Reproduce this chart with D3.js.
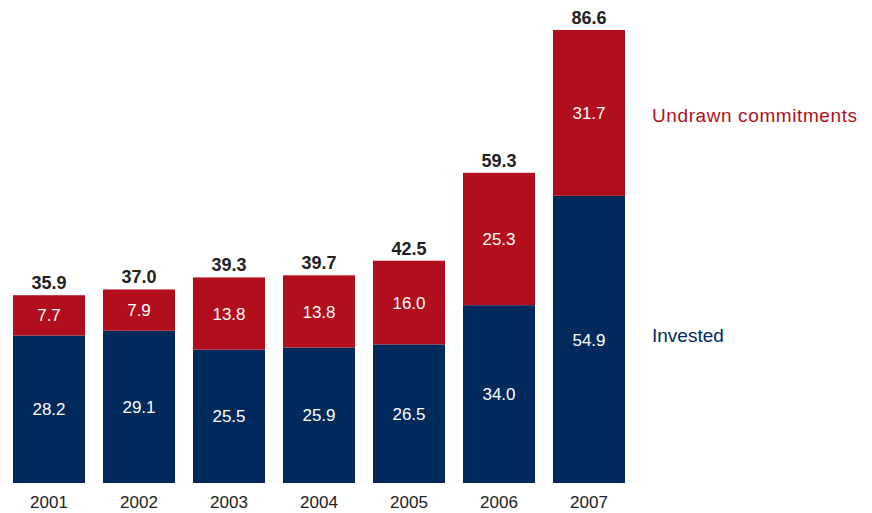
<!DOCTYPE html>
<html>
<head>
<meta charset="utf-8">
<script src="https://cdn.jsdelivr.net/npm/d3@7"></script>
<style>
  html, body { margin: 0; padding: 0; background: #fff; }
  svg { display: block; font-family: "Liberation Sans", Arial, sans-serif; }
</style>
</head>
<body>
<svg id="chart" width="872" height="513"></svg>
<script>
// Private equity funds, by year (billions)
const years = ["2001", "2002", "2003", "2004", "2005", "2006", "2007"];
const invested = [28.2, 29.1, 25.5, 25.9, 26.5, 34.0, 54.9];
const undrawn = [7.7, 7.9, 13.8, 13.8, 16.0, 25.3, 31.7];
const totals = [35.9, 37.0, 39.3, 39.7, 42.5, 59.3, 86.6];
const seriesNames = ["Invested", "Undrawn commitments"];

const colors = { invested: "#002a5c", undrawn: "#b20e1c", text: "#222222" };

const svg = d3.select("#chart");

const x = d3.scaleBand().domain(years).range([13, 625]).paddingInner(0.2).paddingOuter(0);
const y = d3.scaleLinear().domain([0, 86.6]).range([483, 30]);

const rows = years.map((yr, i) => ({ year: yr, invested: invested[i], undrawn: undrawn[i], total: totals[i] }));

const g = svg.append("g");

// Invested segment (bottom)
g.selectAll("rect.inv").data(rows).join("rect")
  .attr("class", "inv")
  .attr("x", d => x(d.year))
  .attr("width", x.bandwidth())
  .attr("y", d => y(d.invested))
  .attr("height", d => y(0) - y(d.invested))
  .attr("fill", colors.invested);

// Undrawn commitments segment (stacked on top)
g.selectAll("rect.und").data(rows).join("rect")
  .attr("class", "und")
  .attr("x", d => x(d.year))
  .attr("width", x.bandwidth())
  .attr("y", d => y(d.invested + d.undrawn))
  .attr("height", d => y(d.invested) - y(d.invested + d.undrawn))
  .attr("fill", colors.undrawn);

// Segment value labels
g.selectAll("text.inv").data(rows).join("text")
  .attr("x", d => x(d.year) + x.bandwidth() / 2)
  .attr("y", d => (y(0) + y(d.invested)) / 2)
  .attr("dy", "0.36em")
  .attr("text-anchor", "middle")
  .attr("fill", "#ffffff")
  .attr("font-size", 17)
  .text(d => d.invested.toFixed(1));

g.selectAll("text.und").data(rows).join("text")
  .attr("x", d => x(d.year) + x.bandwidth() / 2)
  .attr("y", d => (y(d.invested) + y(d.invested + d.undrawn)) / 2)
  .attr("dy", "0.36em")
  .attr("text-anchor", "middle")
  .attr("fill", "#ffffff")
  .attr("font-size", 17)
  .text(d => d.undrawn.toFixed(1));

// Totals above bars
g.selectAll("text.tot").data(rows).join("text")
  .attr("x", d => x(d.year) + x.bandwidth() / 2)
  .attr("y", d => y(d.total) - 6)
  .attr("text-anchor", "middle")
  .attr("fill", colors.text)
  .attr("font-size", 18)
  .attr("font-weight", "bold")
  .text(d => d.total.toFixed(1));

// Year axis labels
g.selectAll("text.yr").data(rows).join("text")
  .attr("x", d => x(d.year) + x.bandwidth() / 2)
  .attr("y", 508)
  .attr("text-anchor", "middle")
  .attr("fill", colors.text)
  .attr("font-size", 17)
  .text(d => d.year);

// Series labels beside the last bar
const last = rows[rows.length - 1];
const lx = x(last.year) + x.bandwidth() + 27;
svg.append("text")
  .attr("x", lx)
  .attr("y", (y(last.invested) + y(last.invested + last.undrawn)) / 2 + 2)
  .attr("dy", "0.36em")
  .attr("fill", colors.undrawn)
  .attr("font-size", 19)
  .attr("letter-spacing", 0.6)
  .text(seriesNames[1]);
svg.append("text")
  .attr("x", lx)
  .attr("y", (y(0) + y(last.invested)) / 2 - 4)
  .attr("dy", "0.36em")
  .attr("fill", colors.invested)
  .attr("font-size", 19)
  .text(seriesNames[0]);
</script>
</body>
</html>
